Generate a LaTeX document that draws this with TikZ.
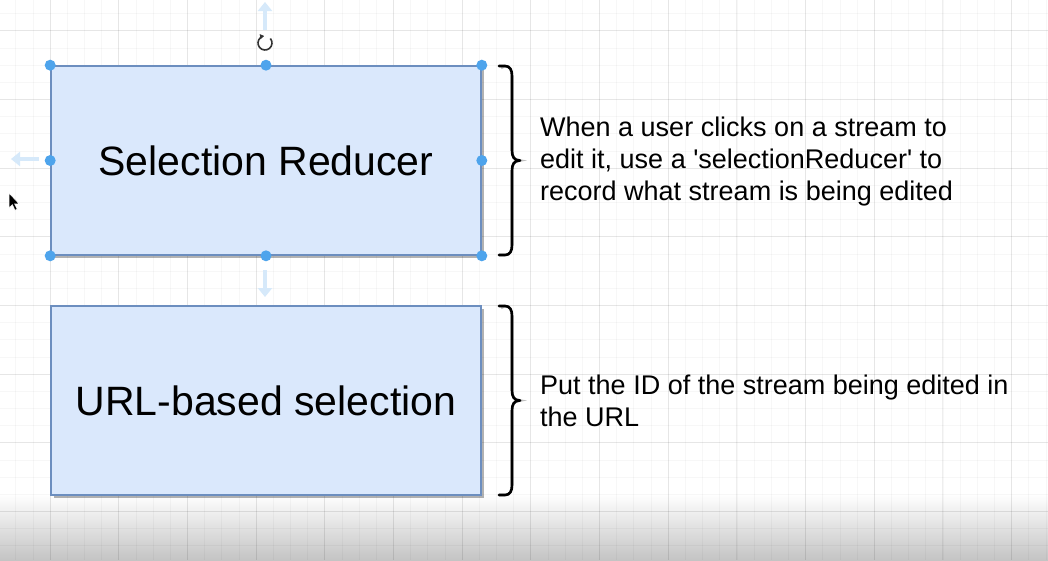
\documentclass[tikz,border=0pt]{standalone}
\usepackage{fontspec}
\setmainfont{Liberation Sans}
\usetikzlibrary{arrows.meta,shadows}
\definecolor{boxfill}{HTML}{DAE8FC}
\definecolor{boxline}{HTML}{6C8EBF}
\definecolor{handle}{HTML}{4EA4EC}
\definecolor{hint}{HTML}{D6E9FA}
\definecolor{shadegray}{HTML}{C4C4C4}
\tikzset{
  box/.style={draw=boxline, line width=1.6pt, fill=boxfill, minimum width=430pt, minimum height=189pt, inner sep=0pt,
    font=\fontsize{41}{48}\selectfont, drop shadow={shadow xshift=2.5pt, shadow yshift=-2.5pt, opacity=0.3, fill=black}},
  note/.style={anchor=west, align=left, inner sep=0pt, font=\fontsize{27}{32}\selectfont},
  minorgrid/.style={draw=black, draw opacity=0.03, line width=0.6pt},
  majorgrid/.style={draw=black, draw opacity=0.065, line width=0.8pt},
  handledot/.style={circle, fill=handle, minimum size=11pt, inner sep=0pt},
  brace/.style={line width=2.6pt, line cap=round, line join=round},
  braceshadow/.style={line width=2.6pt, draw=black, draw opacity=0.25},
  hintarrow/.style={draw=hint, line width=4.5pt, -{Triangle[length=9pt,width=14pt]}}
}
\begin{document}
\begin{tikzpicture}[x=1pt,y=-1pt]
\useasboundingbox (0,0) rectangle (1048,560);
\fill[white] (0,0) rectangle (1048,560);
% bottom shading
\shade[top color=white, bottom color=shadegray] (0,494) rectangle (1048,560);
% grid
\foreach \i in {-3,...,58} {\draw[minorgrid] ({50+17.17*\i},0) -- ({50+17.17*\i},560);}
\foreach \j in {-1,...,32} {\draw[minorgrid] (0,{13.5+17.17*\j}) -- (1048,{13.5+17.17*\j});}
\foreach \i in {0,...,14} {\draw[majorgrid] ({50+68.68*\i},0) -- ({50+68.68*\i},560);}
\foreach \j in {0,...,7} {\draw[majorgrid] (0,{30.7+68.68*\j}) -- (1048,{30.7+68.68*\j});}

% boxes
\node[box] (sel) at (266,160.5) {Selection Reducer};
\node[box] (url) at (266,400.5) {URL-based selection};

% braces
\foreach \t/\b/\m in {66/255/160.5, 306/495/400.5} {
  \draw[braceshadow] ([shift={(2,2)}]499,\t) -- (505,\t) .. controls (510,\t) and (512,\t+4) .. (512,\t+10)
     -- (512,\m-10) .. controls (512,\m-4) and (514,\m) .. (520,\m) .. controls (514,\m) and (512,\m+4) .. (512,\m+10)
     -- (512,\b-10) .. controls (512,\b-4) and (510,\b) .. (505,\b) -- (499,\b);
  \draw[brace] (499,\t) -- (505,\t) .. controls (510,\t) and (512,\t+4) .. (512,\t+10)
     -- (512,\m-10) .. controls (512,\m-4) and (514,\m) .. (520,\m) .. controls (514,\m) and (512,\m+4) .. (512,\m+10)
     -- (512,\b-10) .. controls (512,\b-4) and (510,\b) .. (505,\b) -- (499,\b);
}

% notes
\node[note] (selnote) at (540,162) {When a user clicks on a stream to\\edit it, use a \textquotesingle selectionReducer\textquotesingle\ to\\record what stream is being edited};
\node[note] (urlnote) at (540,401) {Put the ID of the stream being edited in\\the URL};

% selection handles
\foreach \p [count=\k] in {north west,north,north east,west,east,south west,south,south east}
  \node[handledot] (h\k) at (sel.\p) {};

% hint arrows
\coordinate (upA) at (265,30); \coordinate (upB) at (265,2);
\coordinate (leftA) at (39,159); \coordinate (leftB) at (11,159);
\coordinate (downA) at (265,270); \coordinate (downB) at (265,297);
\draw[hintarrow] (upA) -- (upB);
\draw[hintarrow] (leftA) -- (leftB);
\draw[hintarrow] (downA) -- (downB);

% rotate icon
\coordinate (rot) at (265,43);
\draw[line width=1.6pt, draw=black!80, -{Triangle[length=4pt,width=5pt]}]
  ([shift={(-40:7)}]rot) arc[start angle=-40, end angle=262, radius=7];

% cursor
\coordinate (cur) at (9,193);
\filldraw[fill=black, draw=white, line width=0.6pt] (cur) -- ++(0,15) -- ++(3.3,-3.3) -- ++(2.7,5.5) -- ++(2.2,-1) -- ++(-2.6,-5.3) -- ++(4.6,0) -- cycle;
\end{tikzpicture}
\end{document}
